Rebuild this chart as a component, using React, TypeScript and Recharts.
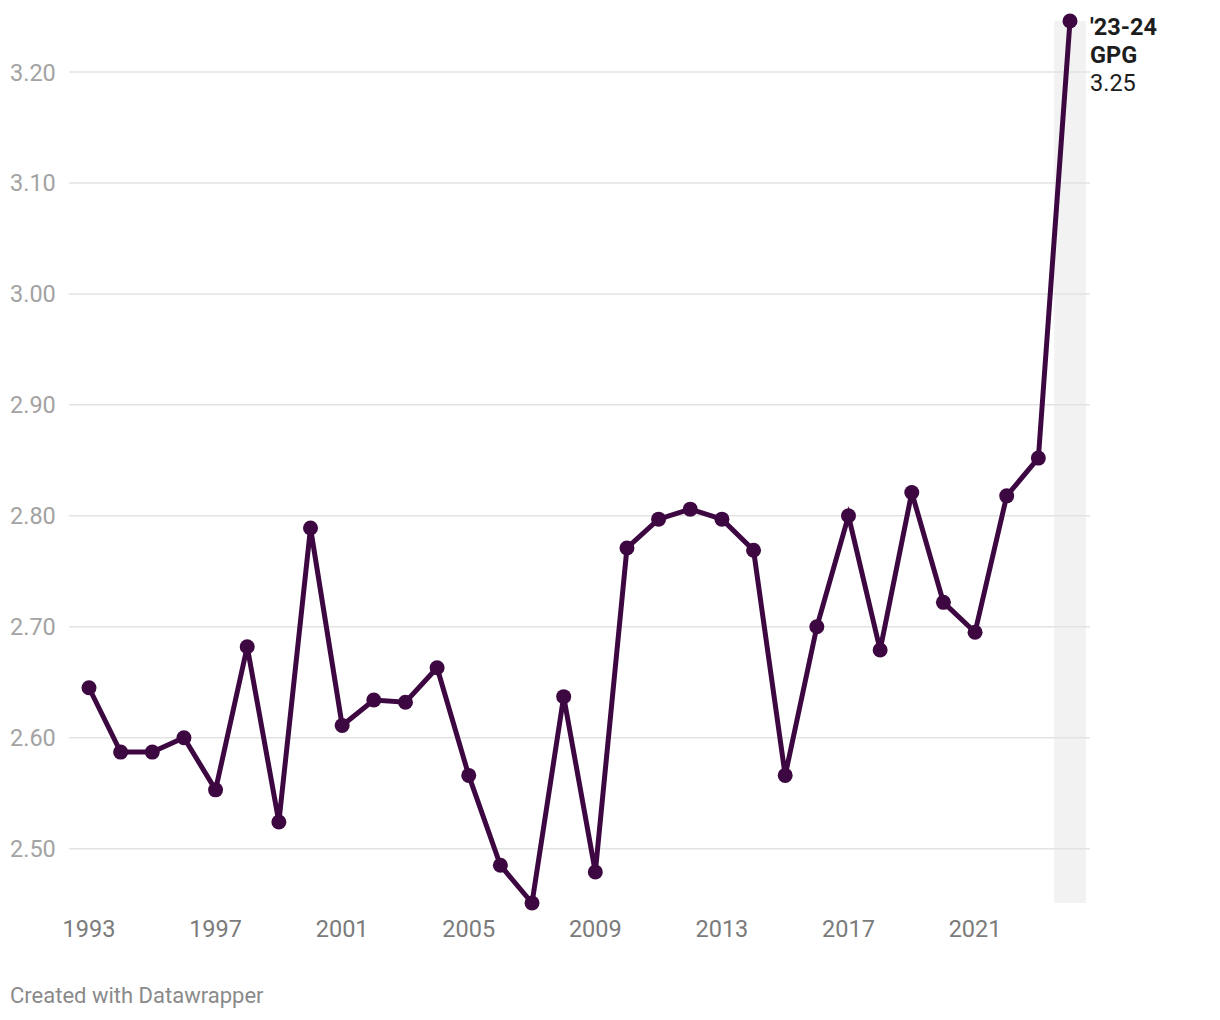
import React from 'react';
import { LineChart, Line, XAxis, YAxis, ReferenceLine, ReferenceArea } from 'recharts';

const years = [
  1993, 1994, 1995, 1996, 1997, 1998, 1999, 2000, 2001, 2002, 2003, 2004, 2005, 2006, 2007, 2008,
  2009, 2010, 2011, 2012, 2013, 2014, 2015, 2016, 2017, 2018, 2019, 2020, 2021, 2022, 2023, 2024,
];
const gpg = [
  2.645, 2.587, 2.587, 2.6, 2.553, 2.682, 2.524, 2.789, 2.611, 2.634, 2.632, 2.663, 2.566, 2.485, 2.451, 2.637,
  2.479, 2.771, 2.797, 2.806, 2.797, 2.769, 2.566, 2.7, 2.8, 2.679, 2.821, 2.722, 2.695, 2.818, 2.852, 3.246,
];
const xTicks = [1993, 1997, 2001, 2005, 2009, 2013, 2017, 2021];
const yTicks = [2.5, 2.6, 2.7, 2.8, 2.9, 3.0, 3.1, 3.2];
const labelLines = ["'23-24", 'GPG', '3.25'];

const data = years.map((y, i) => ({ year: y, gpg: gpg[i] }));

const LINE = '#3d0841';
const FONT = 'Roboto, sans-serif';

const YTick = (props: any) => {
  const { y, payload } = props;
  return (
    <text x={10} y={y} dy={8.5} textAnchor="start" fill="#a3a3a3" fontSize={23.5} fontFamily={FONT}>
      {payload.value.toFixed(2)}
    </text>
  );
};

const XTick = (props: any) => {
  const { x, y, payload } = props;
  return (
    <text x={x} y={y} dy={26} textAnchor="middle" fill="#7b7b7b" fontSize={23.5} fontFamily={FONT}>
      {payload.value}
    </text>
  );
};

const EndLabel = (props: any) => {
  const { x, y, index } = props;
  if (index !== data.length - 1) return null;
  return (
    <g fontFamily={FONT} fontSize={23.5} fill="#1d1d1d">
      {labelLines.map((t, i) => (
        <text key={t} x={x + 20} y={y + 13.5 + i * 28} fontWeight={i < 2 ? 700 : 400}>
          {t}
        </text>
      ))}
    </g>
  );
};

export default function App() {
  return (
    <div style={{ position: 'absolute', left: 0, top: 0, width: 1220, height: 1020, background: '#fff' }}>
      <LineChart
        width={1220}
        height={1020}
        data={data}
        margin={{ top: 21, right: 130, left: 0, bottom: 57 }}
      >
        {yTicks.map((v) => (
          <ReferenceLine key={v} y={v} stroke="#e3e3e3" strokeWidth={1.5} />
        ))}
        <ReferenceArea x1={2023.5} x2={2024.5} fill="#f2f2f2" fillOpacity={1} stroke="none" />
        <XAxis
          dataKey="year"
          type="number"
          domain={[1992.368, 2024.632]}
          ticks={xTicks}
          axisLine={false}
          tickLine={false}
          height={60}
          tick={<XTick />}
        />
        <YAxis
          type="number"
          domain={[2.451, 3.246]}
          ticks={yTicks}
          axisLine={false}
          tickLine={false}
          width={69}
          tick={<YTick />}
        />
        <Line
          dataKey="gpg"
          type="linear"
          stroke={LINE}
          strokeWidth={5}
          dot={{ r: 7.5, fill: LINE, stroke: 'none' }}
          activeDot={false}
          label={<EndLabel />}
          isAnimationActive={false}
        />
      </LineChart>
      <div
        style={{
          position: 'absolute',
          left: 10,
          top: 983,
          fontFamily: FONT,
          fontSize: 22,
          color: '#8a8a8a',
        }}
      >
        Created with Datawrapper
      </div>
    </div>
  );
}
